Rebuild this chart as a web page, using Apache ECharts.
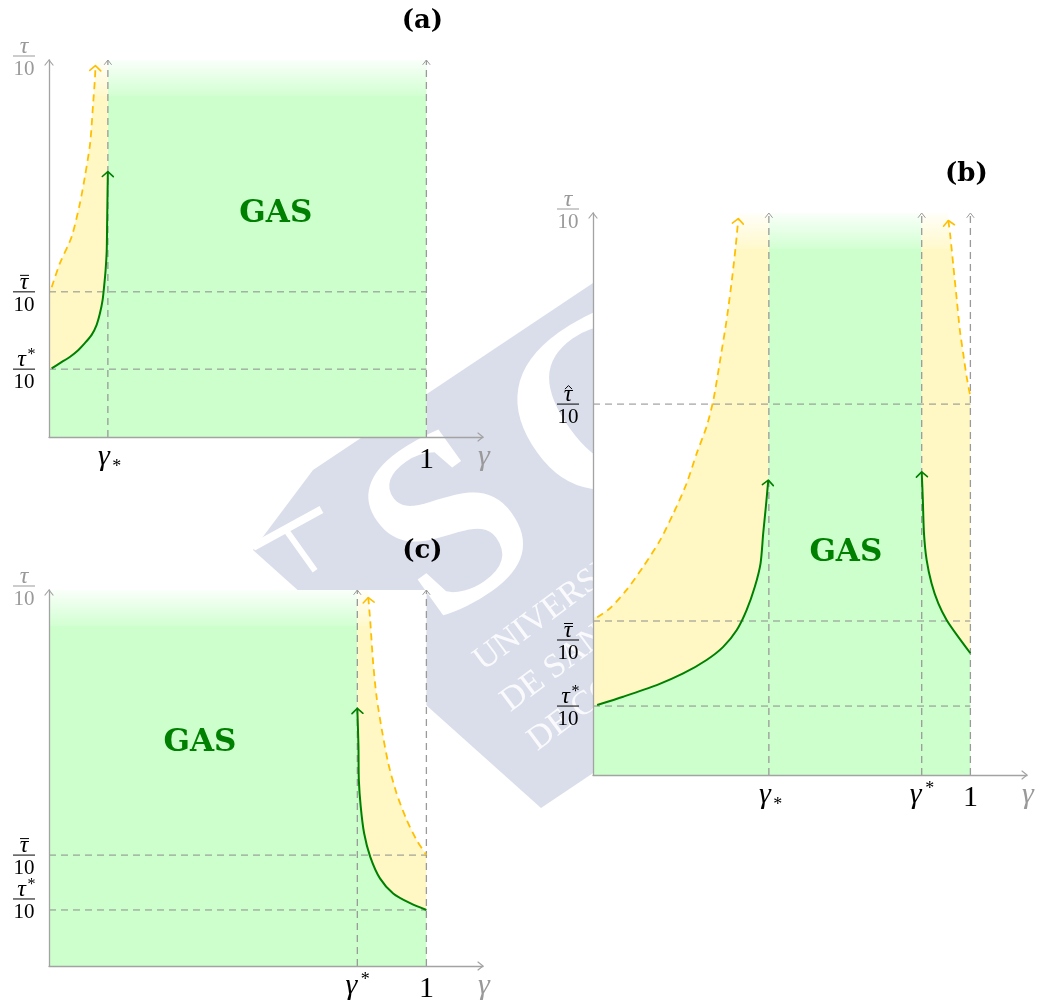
<!DOCTYPE html>
<html>
<head>
<meta charset="utf-8">
<title>Stability regions</title>
<script src="https://cdn.jsdelivr.net/npm/echarts@6/dist/echarts.min.js"></script>
<style>
  html, body { margin: 0; padding: 0; background: #ffffff; }
  #chart { width: 1039px; height: 1002px; }
</style>
</head>
<body>
<div id="chart"></div>
<script>
// ---------------- data ----------------
const X_MAX = 1.15;                      // end of the γ axis (arrow)

// panel (a)
const aYMax = 10;
const aGammaLow = 0.156;                 // γ_*
const aTauBar = 3.85;                    // τ̄/10
const aTauStar = 1.80;                   // τ*/10
const aStable = [[0.007,1.82],[0.029,1.96],[0.056,2.13],[0.078,2.31],[0.095,2.49],[0.113,2.71],[0.126,2.97],
                 [0.135,3.28],[0.142,3.63],[0.146,3.99],[0.150,4.43],[0.153,4.96],[0.154,5.67],[0.155,6.37],[0.156,7.04]];
const aUnstable = [[0.007,3.97],[0.029,4.61],[0.060,5.31],[0.082,6.20],[0.095,6.90],[0.109,7.79],[0.117,8.85],[0.122,9.55],[0.123,9.85]];
const aTickValues = [aGammaLow, 1];
const aTickLabels = [['γ','*','sub'], ['1']];
const aFracValues = [aTauBar, aTauStar];
const aFracMarks = ['bar', 'star'];

// panel (b)
const bYMax = 15;
const bGammaLow = 0.466;                 // γ_*
const bGammaHigh = 0.871;                // γ^*
const bTauHat = 9.90;                    // τ̂/10
const bTauBar = 4.11;
const bTauStar = 1.84;
const bStableLeft = [[0.011,1.87],[0.080,2.09],[0.169,2.40],[0.239,2.71],[0.301,3.07],[0.345,3.42],[0.381,3.87],
                     [0.407,4.40],[0.429,5.03],[0.444,5.65],[0.451,6.45],[0.458,7.16],[0.4645,7.87]];
const bUnstableLeft = [[0.011,4.21],[0.045,4.45],[0.089,4.94],[0.133,5.56],[0.178,6.27],[0.213,6.98],[0.248,7.78],
                       [0.275,8.59],[0.301,9.30],[0.319,10.01],[0.337,11.08],[0.354,12.14],[0.368,13.21],[0.378,14.10],[0.385,14.85]];
const bStableRight = [[0.871,8.09],[0.874,7.34],[0.877,6.45],[0.884,5.74],[0.897,5.12],[0.915,4.58],[0.937,4.14],[0.964,3.74],[1.0,3.25]];
const bUnstableRight = [[0.9415,14.8],[0.946,14.46],[0.955,13.57],[0.964,12.68],[0.972,11.88],[0.981,11.25],[0.990,10.63],[1.0,10.10]];
const bTickValues = [bGammaLow, bGammaHigh, 1];
const bTickLabels = [['γ','*','sub'], ['γ','*','sup'], ['1']];
const bFracValues = [bTauHat, bTauBar, bTauStar];
const bFracMarks = ['hat', 'bar', 'star'];

// panel (c)
const cYMax = 10;
const cGammaHigh = 0.817;                // γ^*
const cTauBar = 2.95;
const cTauStar = 1.49;
const cStable = [[0.817,6.85],[0.820,5.83],[0.821,4.95],[0.826,4.24],[0.835,3.53],[0.851,2.91],[0.877,2.33],[0.912,1.93],[0.957,1.67],[1.0,1.49]];
const cUnstable = [[0.846,9.8],[0.851,9.20],[0.859,8.05],[0.868,7.16],[0.882,6.28],[0.899,5.39],[0.921,4.59],[0.948,3.88],[0.974,3.35],[1.0,2.95]];
const cTickValues = [cGammaHigh, 1];
const cTickLabels = [['γ','*','sup'], ['1']];
const cFracValues = [cTauBar, cTauStar];
const cFracMarks = ['bar', 'star'];

const panelTitles = ['(a)', '(b)', '(c)'];
const regionName = 'GAS';

// ---------------- styles ----------------
const GREEN_FILL = '#ccffcc';
const YELLOW_FILL = '#fff8c4';
const GREEN_LINE = '#008000';
const ORANGE_LINE = '#ffbf00';
const GUIDE = '#8c8c8c';
const AXIS_GREY = '#a3a3a3';
const SERIF = '"Liberation Serif", "DejaVu Serif", serif';
const BOLD_SERIF = 'bold 26px "DejaVu Serif", serif';

const rev = arr => arr.slice().reverse();
const last = arr => arr[arr.length - 1];

// regions built from the curves above
const panels = [
  {
    yMax: aYMax,
    green: [[[0,0],[0,aStable[0][1]], ...aStable, [aGammaLow,aYMax], [1,aYMax], [1,0]]],
    yellow: [[[0,aStable[0][1]], ...aStable, [aGammaLow,aYMax], [last(aUnstable)[0],aYMax], ...rev(aUnstable), [0,aUnstable[0][1]]]],
    hGuides: [aTauBar, aTauStar],
    vGuides: [aGammaLow, 1],
    curves: [
      { points: aUnstable, color: ORANGE_LINE, dash: [7,5], tipAtStart: false },
      { points: aStable, color: GREEN_LINE, tipAtStart: false }
    ],
    ticks: aTickValues, tickLabels: aTickLabels,
    fracs: aFracValues, fracMarks: aFracMarks, fracShift: [0, 0],
    gas: [0.601, 5.92], title: panelTitles[0]
  },
  {
    yMax: bYMax,
    green: [[[0,0],[0,bStableLeft[0][1]], ...bStableLeft, [bGammaLow,bYMax], [bGammaHigh,bYMax], ...bStableRight, [1,0]]],
    yellow: [
      [[0,bStableLeft[0][1]], ...bStableLeft, [bGammaLow,bYMax], [last(bUnstableLeft)[0],bYMax], ...rev(bUnstableLeft), [0,bUnstableLeft[0][1]]],
      [[bGammaHigh,bYMax], [bUnstableRight[0][0],bYMax], ...bUnstableRight, ...rev(bStableRight)]
    ],
    hGuides: [bTauHat, bTauBar, bTauStar],
    vGuides: [bGammaLow, bGammaHigh, 1],
    curves: [
      { points: bUnstableLeft, color: ORANGE_LINE, dash: [7,5], tipAtStart: false },
      { points: bUnstableRight, color: ORANGE_LINE, dash: [7,5], tipAtStart: true },
      { points: bStableLeft, color: GREEN_LINE, tipAtStart: false },
      { points: bStableRight, color: GREEN_LINE, tipAtStart: true }
    ],
    ticks: bTickValues, tickLabels: bTickLabels,
    fracs: bFracValues, fracMarks: bFracMarks, fracShift: [0, 19, 0],
    gas: [0.670, 5.92], title: panelTitles[1]
  },
  {
    yMax: cYMax,
    green: [[[0,0],[0,cYMax],[cGammaHigh,cYMax], ...cStable, [1,0]]],
    yellow: [[[cGammaHigh,cYMax], [cUnstable[0][0],cYMax], ...cUnstable, ...rev(cStable)]],
    hGuides: [cTauBar, cTauStar],
    vGuides: [cGammaHigh, 1],
    curves: [
      { points: cUnstable, color: ORANGE_LINE, dash: [7,5], tipAtStart: true },
      { points: cStable, color: GREEN_LINE, tipAtStart: true }
    ],
    ticks: cTickValues, tickLabels: cTickLabels,
    fracs: cFracValues, fracMarks: cFracMarks, fracShift: [0, -11],
    gas: [0.400, 5.93], title: panelTitles[2]
  }
];

// ---------------- drawing helpers ----------------
function chevron(tip, from, w, l, color, lw) {
  const dx = tip[0] - from[0], dy = tip[1] - from[1];
  const len = Math.hypot(dx, dy) || 1;
  const ux = dx / len, uy = dy / len, nx = -uy, ny = ux;
  const bx = tip[0] - ux * l, by = tip[1] - uy * l;
  return {
    type: 'polyline',
    shape: { points: [[bx + nx * w, by + ny * w], [tip[0], tip[1]], [bx - nx * w, by - ny * w]] },
    style: { stroke: color, lineWidth: lw, fill: 'none', lineJoin: 'round', lineCap: 'round' }
  };
}
function text(str, x, y, font, fill, align) {
  return { type: 'text', style: { text: str, x: x, y: y, font: font, fill: fill, align: align || 'center', verticalAlign: 'middle' } };
}
// "numerator over 10" label whose fraction bar sits at (cx, cy)
function fraction(kids, cx, cy, mark, color) {
  kids.push({ type: 'line', shape: { x1: cx - 11, y1: cy, x2: cx + 11, y2: cy }, style: { stroke: color, lineWidth: 1 } });
  kids.push(text('10', cx, cy + 13.5, '21px ' + SERIF, color));
  const tx = mark === 'star' ? cx - 2.5 : cx;
  kids.push(text('τ', tx, cy - 9.5, 'italic 24px ' + SERIF, color));
  if (mark === 'bar') {
    kids.push({ type: 'line', shape: { x1: cx - 4, y1: cy - 16.5, x2: cx + 5, y2: cy - 16.5 }, style: { stroke: color, lineWidth: 1 } });
  } else if (mark === 'star') {
    kids.push(text('*', cx + 7.5, cy - 14, '16px ' + SERIF, color));
  } else if (mark === 'hat') {
    kids.push({ type: 'polyline', shape: { points: [[cx - 3, cy - 15], [cx + 0.5, cy - 18.5], [cx + 4, cy - 15]] },
                style: { stroke: color, lineWidth: 1, fill: 'none' } });
  }
}

function renderPanel(spec) {
  return function (params, api) {
    const P = p => api.coord(p);
    const top = spec.yMax;
    const kids = [];
    const poly = (arr, fill) => kids.push({ type: 'polygon', shape: { points: arr.map(P) }, style: { fill: fill } });

    // plain backdrop of the unit strip, then the regions
    poly([[0,0],[1,0],[1,top],[0,top]], '#ffffff');
    spec.green.forEach(r => poly(r, GREEN_FILL));
    spec.yellow.forEach(r => poly(r, YELLOW_FILL));

    // regions fade out towards the top of the axis
    const tl = P([0, top]), tr = P([1, top]);
    kids.push({
      type: 'rect', shape: { x: tl[0], y: tl[1], width: tr[0] - tl[0], height: 36 },
      style: { fill: { type: 'linear', x: 0, y: 0, x2: 0, y2: 1, colorStops: [
        { offset: 0, color: 'rgba(255,255,255,0.9)' }, { offset: 1, color: 'rgba(255,255,255,0.12)' } ] } }
    });

    // dashed guides
    spec.hGuides.forEach(v => {
      const a = P([0, v]), b = P([1, v]);
      kids.push({ type: 'line', shape: { x1: a[0], y1: a[1], x2: b[0], y2: b[1] }, style: { stroke: GUIDE, lineWidth: 1, lineDash: [7, 5] } });
    });
    spec.vGuides.forEach(v => {
      const a = P([v, 0]), b = P([v, top]);
      kids.push({ type: 'line', shape: { x1: a[0], y1: a[1], x2: b[0], y2: b[1] }, style: { stroke: '#9a9a9a', lineWidth: 1.3, lineDash: [7, 5] } });
      kids.push(chevron(b, a, 3.5, 4.5, '#9a9a9a', 1));
    });

    // axis arrow heads
    const o = P([0, 0]);
    kids.push(chevron(P([0, top]), o, 4, 5, AXIS_GREY, 1.2));
    kids.push(chevron(P([X_MAX, 0]), o, 4, 5, AXIS_GREY, 1.2));

    // boundary curves
    spec.curves.forEach(c => {
      const px = c.points.map(P);
      kids.push({ type: 'polyline', shape: { points: px, smooth: 0.25 },
                  style: { stroke: c.color, lineWidth: c.dash ? 1.8 : 2, lineDash: c.dash || null, fill: 'none', lineJoin: 'round' } });
      const n = px.length;
      const tip = c.tipAtStart ? px[0] : px[n - 1];
      const prev = c.tipAtStart ? px[1] : px[n - 2];
      kids.push(chevron(tip, prev, 5.5, 5, c.color, 1.6));
    });

    // γ tick labels
    spec.ticks.forEach((v, i) => {
      const p = P([v, 0]);
      const lab = spec.tickLabels[i];
      if (lab.length === 1) {
        kids.push(text(lab[0], p[0], p[1] + 23, '30px ' + SERIF, '#000'));
      } else if (lab[2] === 'sub') {
        kids.push(text(lab[0], p[0] - 4, p[1] + 20, 'italic 30px ' + SERIF, '#000'));
        kids.push(text(lab[1], p[0] + 9, p[1] + 30, '18px ' + SERIF, '#000'));
      } else {
        kids.push(text(lab[0], p[0] - 6, p[1] + 20, 'italic 30px ' + SERIF, '#000'));
        kids.push(text(lab[1], p[0] + 8, p[1] + 14, '18px ' + SERIF, '#000'));
      }
    });
    const xe = P([X_MAX, 0]);
    kids.push(text('γ', xe[0] + 1, xe[1] + 20, 'italic 30px ' + SERIF, '#999999'));

    // τ fraction labels
    spec.fracs.forEach((v, i) => {
      const p = P([0, v]);
      fraction(kids, p[0] - 25, p[1] + spec.fracShift[i], spec.fracMarks[i], '#000');
    });
    const yt = P([0, top]);
    fraction(kids, yt[0] - 25, yt[1] - 4, 'none', '#999999');

    // region name and panel title
    const g = P(spec.gas);
    kids.push(text(regionName, g[0], g[1], 'bold 31px "DejaVu Serif", serif', GREEN_LINE));
    kids.push(text(spec.title, tr[0] - 4, tr[1] - 39, BOLD_SERIF, '#000'));

    return { type: 'group', children: kids };
  };
}

// ---------------- chart ----------------
const grids = [
  { left: 49,  top: 60,  width: 434, height: 377 },
  { left: 593, top: 213, width: 434, height: 562 },
  { left: 49,  top: 590, width: 434, height: 376 }
];
const axisCommon = {
  type: 'value', min: 0, z: 5,
  axisLine: { show: true, onZero: false, lineStyle: { color: AXIS_GREY, width: 1.3 } },
  axisTick: { show: false }, axisLabel: { show: false }, splitLine: { show: false }
};

const WM_FILL = '#dadeea';
const chart = echarts.init(document.getElementById('chart'), null, { renderer: 'canvas' });
chart.setOption({
  animation: false,
  backgroundColor: '#ffffff',
  grid: grids.map(g => Object.assign({ containLabel: false, show: false }, g)),
  xAxis: panels.map((p, i) => Object.assign({}, axisCommon, { gridIndex: i, max: X_MAX })),
  yAxis: panels.map((p, i) => Object.assign({}, axisCommon, { gridIndex: i, max: p.yMax })),
  graphic: {
    elements: [
      // university watermark behind the panels
      { type: 'polygon', z: -1, silent: true,
        shape: { points: [[253,550],[313,470],[620,265],[620,755],[541,808]] }, style: { fill: WM_FILL } },
      { type: 'rect', z: -1, silent: true, x: 253, y: 547, rotation: 0.5,
        shape: { x: 0, y: -4, width: 78, height: 8 }, style: { fill: '#ffffff' } },
      { type: 'rect', z: -1, silent: true, x: 286, y: 530, rotation: -0.95,
        shape: { x: 0, y: -3, width: 50, height: 6 }, style: { fill: '#ffffff' } },
      { type: 'text', z: -1, silent: true, x: 455, y: 535, rotation: 0.62,
        style: { text: 'S', font: 'bold 250px "Liberation Serif", serif', fill: '#ffffff', align: 'center', verticalAlign: 'middle' } },
      { type: 'text', z: -1, silent: true, x: 610, y: 420, rotation: 0.62,
        style: { text: 'C', font: 'bold 250px "Liberation Serif", serif', fill: '#ffffff', align: 'center', verticalAlign: 'middle' } },
      { type: 'text', z: -1, silent: true, x: 478, y: 664, rotation: 0.64,
        style: { text: 'UNIVERSIDADE', font: '34px "Liberation Serif", serif', fill: '#ffffff', opacity: 0.85, align: 'left', verticalAlign: 'middle' } },
      { type: 'text', z: -1, silent: true, x: 505, y: 705, rotation: 0.64,
        style: { text: 'DE SANTIAGO', font: '34px "Liberation Serif", serif', fill: '#ffffff', opacity: 0.85, align: 'left', verticalAlign: 'middle' } },
      { type: 'text', z: -1, silent: true, x: 532, y: 744, rotation: 0.64,
        style: { text: 'DE COMPOSTELA', font: '34px "Liberation Serif", serif', fill: '#ffffff', opacity: 0.85, align: 'left', verticalAlign: 'middle' } }
    ]
  },
  series: panels.map((p, i) => ({
    type: 'custom', xAxisIndex: i, yAxisIndex: i, silent: true, clip: false, z: 2,
    data: [[0, 0]],
    renderItem: renderPanel(p)
  }))
});
</script>
</body>
</html>
